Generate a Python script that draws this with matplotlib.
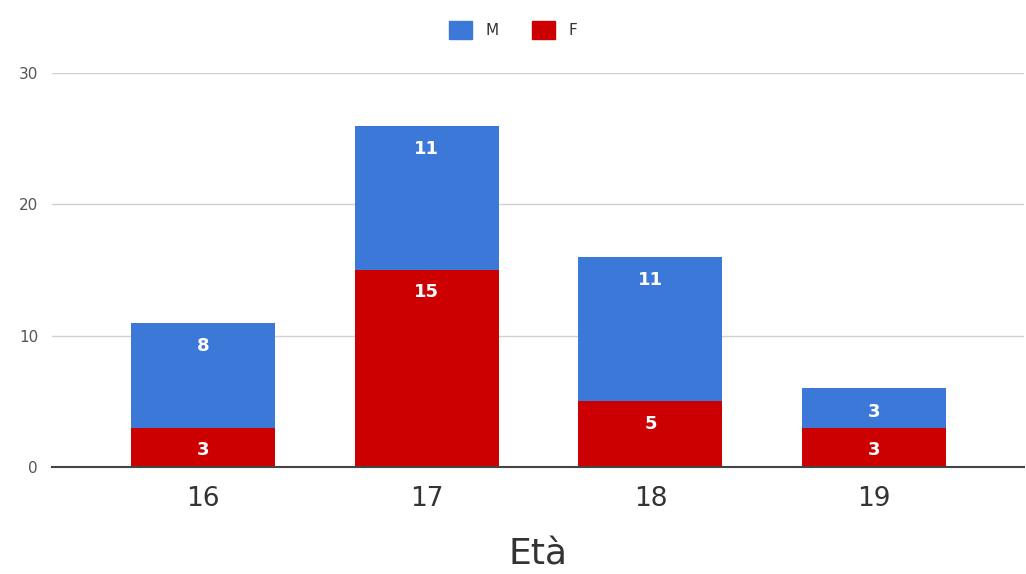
import matplotlib
matplotlib.use("Agg")
import matplotlib.pyplot as plt
from matplotlib.patches import Patch

categories = ["16", "17", "18", "19"]
F_values = [3, 15, 5, 3]
M_values = [8, 11, 11, 3]

blue = "#3c78d8"
red = "#cc0000"

fig = plt.figure(figsize=(10.26, 5.74), dpi=100)
ax = fig.add_axes([52/1026, 1-467/574, (1024-52)/1026, (467-73)/574])

x = list(range(len(categories)))
w = 0.644
bf = ax.bar(x, F_values, width=w, color=red, zorder=3)
bm = ax.bar(x, M_values, width=w, bottom=F_values, color=blue, zorder=3)

for xi, f, m in zip(x, F_values, M_values):
    ax.annotate(str(f), (xi, f), xytext=(0, -16), textcoords="offset points",
                ha="center", va="center", color="white", fontsize=13,
                fontweight="bold", zorder=4)
    ax.annotate(str(m), (xi, f + m), xytext=(0, -17), textcoords="offset points",
                ha="center", va="center", color="white", fontsize=13,
                fontweight="bold", zorder=4)

ax.set_xlim(-0.675, 3.67)
ax.set_ylim(0, 30)
ax.set_yticks([0, 10, 20, 30])
ax.set_xticks(x)
ax.set_xticklabels(categories)
ax.grid(axis="y", color="#d0d0d0", linewidth=1, zorder=0)
for s in ["top", "right", "left"]:
    ax.spines[s].set_visible(False)
ax.spines["bottom"].set_color("#444444")
ax.spines["bottom"].set_linewidth(1.5)
ax.spines["bottom"].set_zorder(5)
ax.tick_params(axis="both", length=0)
ax.tick_params(axis="y", labelsize=11, labelcolor="#555555", pad=10)
ax.tick_params(axis="x", labelsize=19, labelcolor="#333333", pad=14)
ax.set_xlabel("Età", fontsize=26, color="#333333", labelpad=18)

handles = [Patch(color=blue, label="M"), Patch(color=red, label="F")]
fig.legend(handles=handles, loc="center", bbox_to_anchor=(0.5, 1-30/574), ncol=2,
           frameon=False, fontsize=11, handlelength=1.5, handleheight=1.5,
           columnspacing=2.2, handletextpad=0.9, labelcolor="#333333")

fig.savefig("out.png", dpi=100)
